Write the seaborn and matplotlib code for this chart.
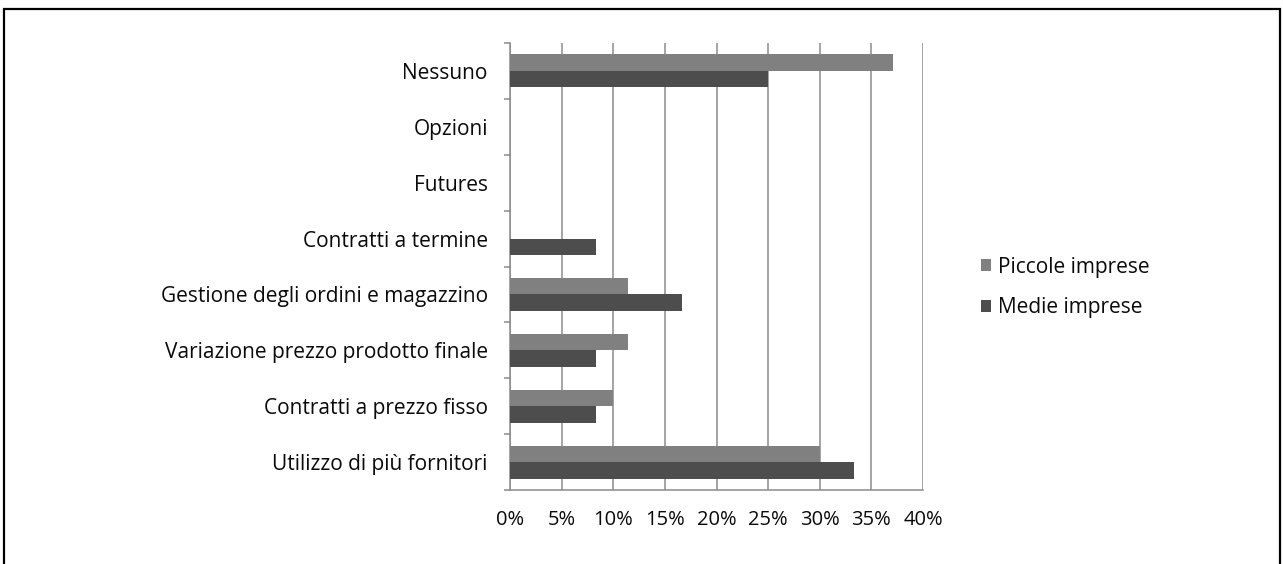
import matplotlib
matplotlib.use("Agg")
import matplotlib.pyplot as plt
from matplotlib.patches import Rectangle, Patch
from matplotlib.ticker import FixedLocator, PercentFormatter
import seaborn as sns
import pandas as pd

# Strategie di copertura dal rischio prezzo (quota di imprese)
categories = [
    "Nessuno",
    "Opzioni",
    "Futures",
    "Contratti a termine",
    "Gestione degli ordini e magazzino",
    "Variazione prezzo prodotto finale",
    "Contratti a prezzo fisso",
    "Utilizzo di più fornitori",
]
piccole = [37.1, 0.0, 0.0, 0.0, 11.4, 11.4, 10.0, 30.0]
medie = [25.0, 0.0, 0.0, 8.3, 16.7, 8.3, 8.3, 33.3]
series = ["Piccole imprese", "Medie imprese"]
colors = ["#808080", "#4d4d4d"]
x_ticks = [0, 5, 10, 15, 20, 25, 30, 35, 40]

df = pd.DataFrame({
    "categoria": categories * 2,
    "valore": piccole + medie,
    "serie": [series[0]] * len(categories) + [series[1]] * len(categories),
})

sns.set_theme(style="white")
plt.rcParams["font.family"] = ["Open Sans", "DejaVu Sans"]

FS = 15
FS_X = 14.5
text_c = "#0a0a0a"
grid_c = "#8c8c8c"

fig = plt.figure(figsize=(12.83, 5.64), dpi=100)
ax = fig.add_axes([510 / 1283, 1 - 490 / 564, 413 / 1283, 447 / 564])

sns.barplot(
    data=df, x="valore", y="categoria", hue="serie", order=categories,
    hue_order=series, palette=colors, orient="h", width=0.59, gap=0,
    saturation=1, linewidth=0, legend=False, ax=ax, zorder=3,
)

ax.set_xlim(0, 40)
ax.set_ylim(len(categories) - 0.5, -0.5)
ax.set_xlabel("")
ax.set_ylabel("")

ax.xaxis.set_major_locator(FixedLocator(x_ticks))
ax.xaxis.set_major_formatter(PercentFormatter(decimals=0))
ax.grid(axis="x", color=grid_c, linewidth=1.1, zorder=0)
ax.grid(axis="y", visible=False)

for s in ["top", "right"]:
    ax.spines[s].set_visible(False)
for s in ["left", "bottom"]:
    ax.spines[s].set_color(grid_c)
    ax.spines[s].set_linewidth(1.1)

ax.tick_params(axis="x", which="major", direction="out", length=4.5, width=1.1,
               color=grid_c, labelsize=FS_X, labelcolor=text_c, pad=10)
ax.tick_params(axis="y", which="major", length=0, labelsize=FS,
               labelcolor=text_c, pad=16)
ax.yaxis.set_minor_locator(FixedLocator([i - 0.5 for i in range(len(categories) + 1)]))
ax.tick_params(axis="y", which="minor", direction="out", length=4.5, width=1.1,
               color=grid_c, left=True)

handles = [Patch(facecolor=c, edgecolor="none") for c in colors]
fig.legend(handles, series, loc="center left",
           bbox_to_anchor=(981 / 1283, 1 - 287.5 / 564), frameon=False,
           fontsize=FS, handlelength=0.5, handleheight=0.5, handletextpad=0.3,
           labelspacing=0.95, labelcolor=text_c, borderpad=0, borderaxespad=0)

# outer frame
fig.add_artist(Rectangle((4 / 1283, -0.05), 1276 / 1283, 1.05 - 9 / 564,
                         transform=fig.transFigure, fill=False,
                         edgecolor="black", linewidth=1.6))

fig.savefig("out.png", dpi=100, facecolor="white")
